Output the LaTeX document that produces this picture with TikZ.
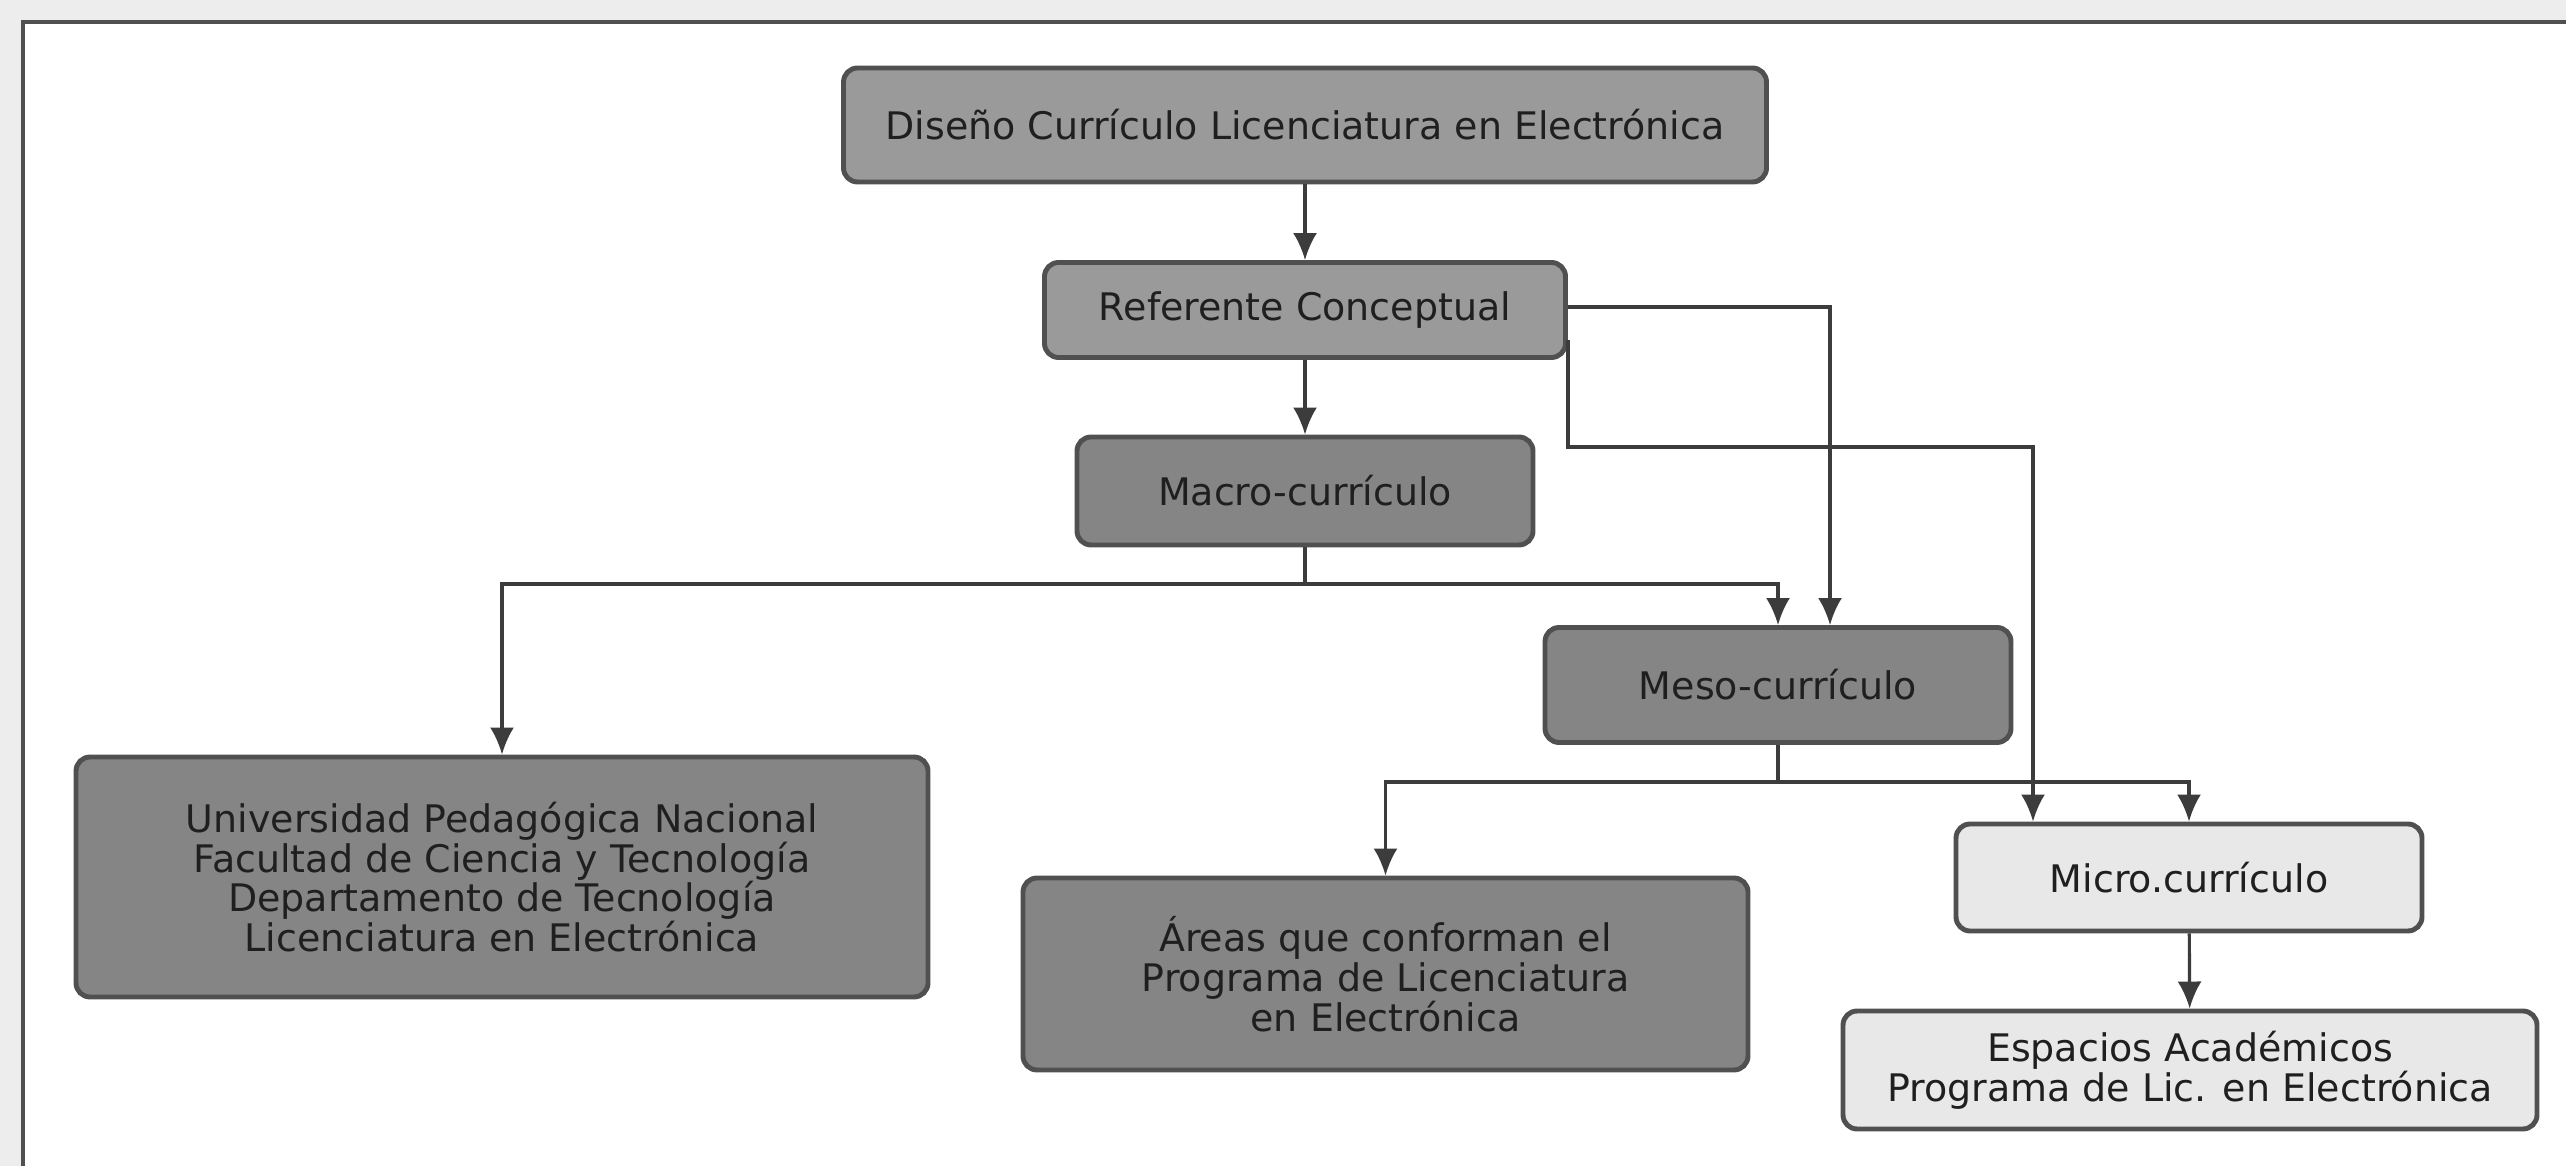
\documentclass[tikz,border=0pt]{standalone}
\usepackage{fontspec}
\setmainfont{DejaVu Sans}
\usetikzlibrary{arrows.meta}
\definecolor{borde}{HTML}{505050}
\definecolor{medio}{HTML}{9A9A9A}
\definecolor{oscuro}{HTML}{858585}
\definecolor{claro}{HTML}{E8E8E8}
\definecolor{linea}{HTML}{3C3C3C}
\tikzset{
  caja/.style={draw=borde, line width=1.4pt, rounded corners=4pt, align=center,
    text=black!88, font=\fontsize{10.8}{11.3}\selectfont, inner sep=0pt},
  flecha/.style={draw=linea, line width=0.9pt, -{Latex[length=2.7mm,width=2.4mm]}},
  tramo/.style={draw=linea, line width=0.9pt}
}
\begin{document}
\begin{tikzpicture}
  \useasboundingbox (0,0) rectangle (25.66,11.66);
  % marco de la hoja
  \fill[black!7] (0,0) rectangle (25.66,11.66);
  \fill[white] (0.23,0) rectangle (25.66,11.44);
  \draw[borde, line width=1.4pt] (0.23,0) -- (0.23,11.44) -- (25.66,11.44);

  \node[caja, fill=medio, minimum width=9.23cm, minimum height=1.14cm] (dis) at (13.05,10.41)
    {Diseño Currículo Licenciatura en Electrónica};
  \node[caja, fill=medio, minimum width=5.21cm, minimum height=0.95cm] (ref) at (13.05,8.56)
    {Referente Conceptual};
  \node[caja, fill=oscuro, minimum width=4.56cm, minimum height=1.08cm] (mac) at (13.05,6.75)
    {Macro-currículo};
  \node[caja, fill=oscuro, minimum width=4.66cm, minimum height=1.15cm] (mes) at (17.78,4.81)
    {Meso-currículo};
  \node[caja, fill=oscuro, minimum width=8.52cm, minimum height=2.40cm] (upn) at (5.02,2.89)
    {Universidad Pedagógica Nacional\\Facultad de Ciencia y Tecnología\\
     Departamento de Tecnología\\Licenciatura en Electrónica};
  \node[caja, fill=oscuro, minimum width=7.25cm, minimum height=1.92cm] (are) at (13.855,1.92)
    {Áreas que conforman el\\Programa de Licenciatura\\en Electrónica};
  \node[caja, fill=claro, minimum width=4.66cm, minimum height=1.07cm] (mic) at (21.89,2.885)
    {Micro.currículo};
  \node[caja, fill=claro, minimum width=6.94cm, minimum height=1.18cm] (esp) at (21.90,0.96)
    {Espacios Académicos\\Programa de Lic. en Electrónica};

  \coordinate (macb) at (13.05,5.82);
  \coordinate (mesb) at (17.78,3.84);

  \draw[flecha] (dis) -- (ref);
  \draw[flecha] (ref) -- (mac);
  \draw[tramo] (mac.south) -- (macb);
  \draw[flecha] (macb) -| (upn.north);
  \draw[flecha] (macb) -| (mes.north);
  \draw[flecha] ([yshift=0.3mm]ref.east) -| ([xshift=5.2mm]mes.north);
  \draw[flecha] ([yshift=2mm]ref.south east) |- (20.33,7.19) -- (20.33,7.19 |- mic.north);
  \draw[tramo] (mes.south) -- (mesb);
  \draw[flecha] (mesb) -| (are.north);
  \draw[flecha] (mesb) -| (mic.north);
  \draw[flecha] (mic) -- (esp);
\end{tikzpicture}
\end{document}
